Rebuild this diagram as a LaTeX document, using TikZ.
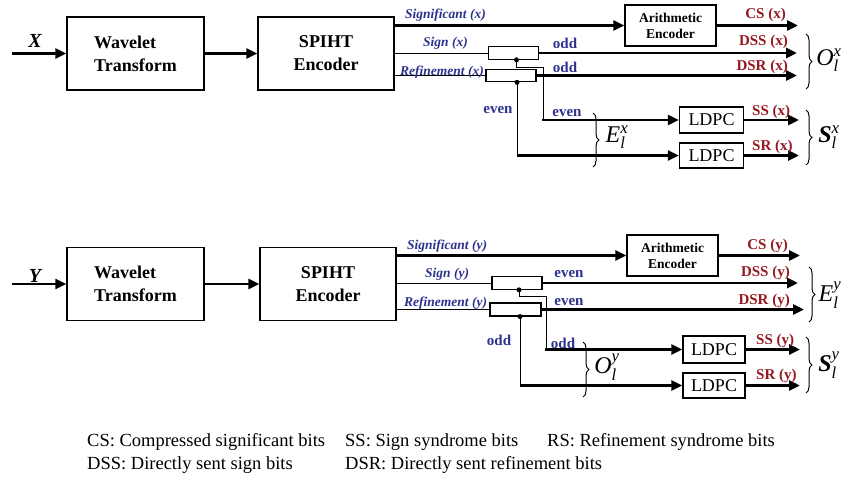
\documentclass[tikz,border=0pt]{standalone}
\usepackage{fontspec}
\usepackage{amsmath}
\setmainfont{Liberation Serif}
\usetikzlibrary{arrows.meta,decorations.pathreplacing,calc}
\definecolor{lblblue}{RGB}{43,49,140}
\definecolor{lblred}{RGB}{150,24,32}

\begin{document}
\begin{tikzpicture}[x=1pt,y=-1pt,
  bigbox/.style={draw,line width=1.3pt,minimum width=137pt,minimum height=73pt,inner sep=0pt,
    font=\fontsize{18}{23}\selectfont\bfseries},
  arbox/.style={draw,line width=1.3pt,minimum width=91pt,minimum height=41pt,inner sep=0pt,align=center,
    font=\fontsize{13.5}{16}\selectfont\bfseries},
  swbox/.style={draw,line width=1.1pt,minimum width=50pt,minimum height=12.5pt,inner sep=0pt},
  ldbox/.style={draw,line width=1.3pt,minimum width=64pt,minimum height=26pt,inner sep=0pt,
    font=\fontsize{18}{18}\selectfont},
  thinline/.style={line width=1pt},
  flow/.style={line width=2.8pt,-{Triangle[length=11pt,width=10pt]}},
  bluelbl/.style={text=lblblue,inner sep=0pt,font=\fontsize{13.5}{13.5}\selectfont\bfseries\itshape},
  parity/.style={text=lblblue,inner sep=0pt,font=\fontsize{15}{15}\selectfont\bfseries},
  redlbl/.style={text=lblred,inner sep=0pt,font=\fontsize{15}{15}\selectfont\bfseries},
  inlbl/.style={inner sep=0pt,font=\fontsize{20}{20}\selectfont\bfseries\itshape},
  setlbl/.style={inner sep=0pt,font=\fontsize{24}{24}\selectfont},
  curly/.style={line width=1pt,decorate,decoration={brace,amplitude=6pt}},
  junction/.style={circle,fill=black,inner sep=0pt,minimum size=5pt},
  legend/.style={anchor=base west,inner sep=0pt,font=\fontsize{18.5}{18.5}\selectfont}
]
\useasboundingbox (0,0) rectangle (844,477);

% ================= X branch =================
\coordinate (xin) at (12,53.5);
\node[inlbl] (xlbl) at (35,41) {X};
\node[bigbox,align=left] (wt1) at (135.5,53.5) {Wavelet\\Transform};
\node[bigbox,align=center,minimum width=136pt] (sp1) at (326,53.5) {SPIHT\\Encoder};
\node[arbox] (ae1) at (670.5,25.5) {Arithmetic\\Encoder};
\node[swbox] (sw1) at (513.5,53) {};
\node[swbox] (rw1) at (511,75.5) {};
\node[ldbox] (ld1) at (711.5,120) {LDPC};
\node[ldbox,minimum height=25pt] (ld2) at (711.5,155.5) {LDPC};

\draw[flow] (xin) -- (wt1.west);
\draw[flow] (wt1.east) -- (sp1.west);
\draw[flow] (sp1.east |- ae1.west) -- (ae1.west);
\draw[thinline] (sp1.east |- sw1.west) -- (sw1.west);
\draw[thinline] (sp1.east |- rw1.west) -- (rw1.west);

\coordinate (csx) at (798,25.5);
\coordinate (dssx) at (797,53);
\coordinate (dsrx) at (797,75.5);
\coordinate (ssx) at (799,120);
\coordinate (srx) at (799,155.5);
\draw[flow] (ae1.east) -- (csx);
\draw[flow] (sw1.east) -- (dssx);
\draw[flow] (rw1.east) -- (dsrx);
\draw[flow] (ld1.east) -- (ssx);
\draw[flow] (ld2.east) -- (srx);

% even-indexed bits leave from the switch taps
\node[junction] (j1) at ([xshift=3pt]sw1.south) {};
\node[junction] (j2) at ([xshift=6pt]rw1.south) {};
\coordinate (bend1) at (543,67);
\draw[thinline] (j1.center) |- (bend1) -- (bend1 |- ld1.west);
\draw[flow] ([xshift=-1.3pt]bend1 |- ld1.west) -- (ld1.west);
\draw[thinline] (j2.center) -- (j2 |- ld2.west);
\draw[flow] ([xshift=-0.5pt]j2 |- ld2.west) -- (ld2.west);

\node[bluelbl,anchor=west] (sigx) at (405,15) {Significant (x)};
\node[bluelbl,anchor=west] (signx) at (423,43) {Sign (x)};
\node[bluelbl,anchor=west] (refx) at (400,72) {Refinement (x)};
\node[parity] (oddx1) at (565,43) {odd};
\node[parity] (oddx2) at (565,67.5) {odd};
\node[parity] (evenx1) at (498,110) {even};
\node[parity] (evenx2) at (567,113) {even};

\node[redlbl,anchor=east] (csxl) at (786,15) {CS (x)};
\node[redlbl,anchor=east] (dssxl) at (788,42) {DSS (x)};
\node[redlbl,anchor=east] (dsrxl) at (788,67) {DSR (x)};
\node[redlbl,anchor=west] (ssxl) at (752,112) {SS (x)};
\node[redlbl,anchor=west] (srxl) at (752,147) {SR (x)};

\draw[curly] (806,34) -- (806,89);
\node[setlbl] (ox) at (829,60) {$\textit{O}^{\textit{x}}_{\textit{l}}$};
\draw[curly] (806,110) -- (806,165);
\node[setlbl] (sx) at (829,137) {$\textbf{\textit{S}}^{\textit{x}}_{\textit{l}}$};
\draw[curly] (593,113) -- (593,167);
\node[setlbl] (ex) at (617,137) {$\textit{E}^{\textit{x}}_{\textit{l}}$};

% ================= Y branch =================
\coordinate (yin) at (12,284);
\node[inlbl] (ylbl) at (35,276) {Y};
\node[bigbox,align=left] (wt2) at (135.5,284) {Wavelet\\Transform};
\node[bigbox,align=center,minimum width=136pt] (sp2) at (328,284) {SPIHT\\Encoder};
\node[arbox] (ae2) at (672.5,255.5) {Arithmetic\\Encoder};
\node[swbox] (sw2) at (517,283) {};
\node[swbox,minimum width=51pt,minimum height=13pt] (rw2) at (515.5,309.5) {};
\node[ldbox,minimum width=62pt,minimum height=27pt] (ld3) at (714,349.5) {LDPC};
\node[ldbox,minimum width=62pt,minimum height=25pt] (ld4) at (714,385.5) {LDPC};

\draw[flow] (yin) -- (wt2.west);
\draw[flow] (wt2.east) -- (sp2.west);
\draw[flow] (sp2.east |- ae2.west) -- (ae2.west);
\draw[thinline] (sp2.east |- sw2.west) -- (sw2.west);
\draw[thinline] (sp2.east |- rw2.west) -- (rw2.west);

\coordinate (csy) at (800,255.5);
\coordinate (dssy) at (798,283);
\coordinate (dsry) at (804,309.5);
\coordinate (ssy) at (800,349.5);
\coordinate (sry) at (800,385.5);
\draw[flow] (ae2.east) -- (csy);
\draw[flow] (sw2.east) -- (dssy);
\draw[flow] (rw2.east) -- (dsry);
\draw[flow] (ld3.east) -- (ssy);
\draw[flow] (ld4.east) -- (sry);

% odd-indexed bits leave from the switch taps
\node[junction] (j3) at ([xshift=2pt]sw2.south) {};
\node[junction] (j4) at ([xshift=4.5pt]rw2.south) {};
\coordinate (bend2) at (546,296);
\draw[thinline] (j3.center) |- (bend2) -- (bend2 |- ld3.west);
\draw[flow] ([xshift=-1.3pt]bend2 |- ld3.west) -- (ld3.west);
\draw[thinline] (j4.center) -- (j4 |- ld4.west);
\draw[flow] ([xshift=-0.5pt]j4 |- ld4.west) -- (ld4.west);

\node[bluelbl,anchor=west] (sigy) at (407,246) {Significant (y)};
\node[bluelbl,anchor=west] (signy) at (425,274) {Sign (y)};
\node[bluelbl,anchor=west] (refy) at (404,303) {Refinement (y)};
\node[parity] (eveny1) at (569,274) {even};
\node[parity] (eveny2) at (569,302) {even};
\node[parity] (oddy1) at (499,340) {odd};
\node[parity] (oddy2) at (563,343) {odd};

\node[redlbl,anchor=east] (csyl) at (788,246) {CS (y)};
\node[redlbl,anchor=east] (dssyl) at (790,273) {DSS (y)};
\node[redlbl,anchor=east] (dsryl) at (790,301) {DSR (y)};
\node[redlbl,anchor=west] (ssyl) at (756,341) {SS (y)};
\node[redlbl,anchor=west] (sryl) at (756,376) {SR (y)};

\draw[curly] (809,267) -- (809,322);
\node[setlbl] (ey) at (830,295) {$\textit{E}^{\textit{y}}_{\textit{l}}$};
\draw[curly] (806,337) -- (806,393);
\node[setlbl] (sy) at (829,365) {$\textbf{\textit{S}}^{\textit{y}}_{\textit{l}}$};
\draw[curly] (583,342) -- (583,397);
\node[setlbl] (oy) at (607,367) {$\textit{O}^{\textit{y}}_{\textit{l}}$};

% ================= abbreviations =================
\node[legend] (lg1) at (87,446) {CS: Compressed significant bits};
\node[legend] (lg2) at (345,446) {SS: Sign syndrome bits};
\node[legend] (lg3) at (547,446) {RS: Refinement syndrome bits};
\node[legend] (lg4) at (87,469) {DSS: Directly sent sign bits};
\node[legend] (lg5) at (345,469) {DSR: Directly sent refinement bits};
\end{tikzpicture}
\end{document}
